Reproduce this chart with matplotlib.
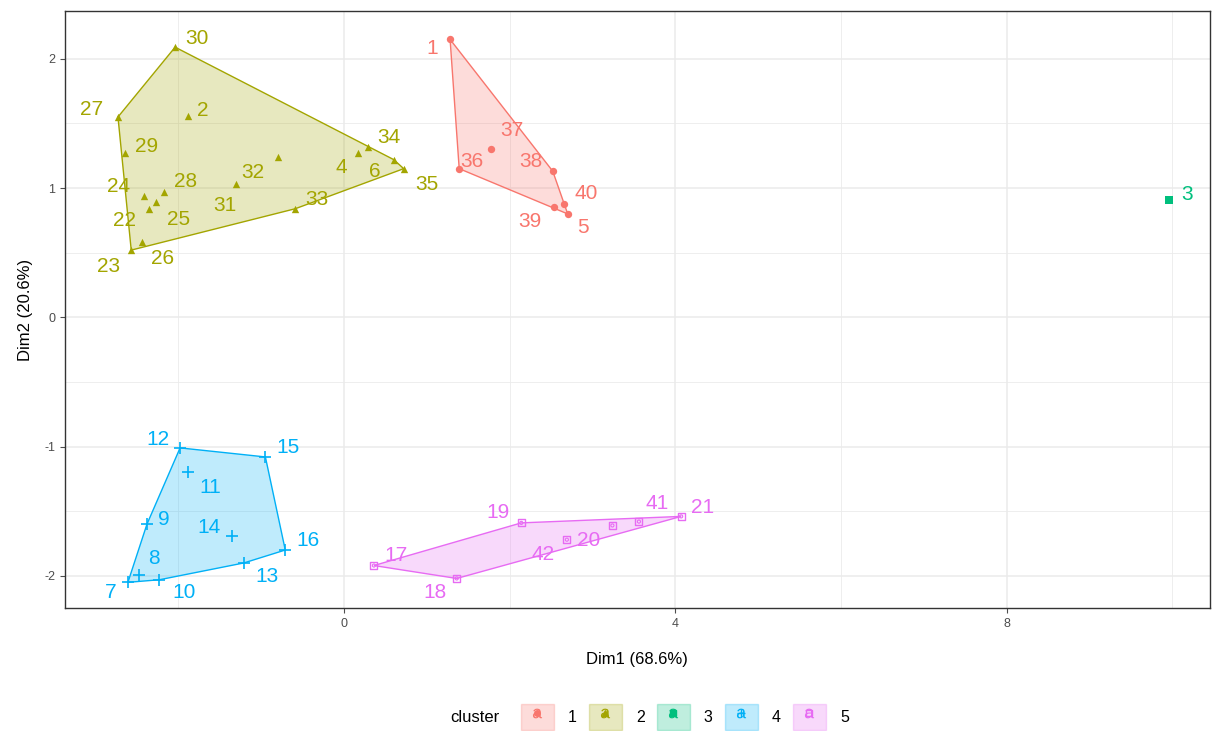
import numpy as np
import matplotlib
matplotlib.use("Agg")
import matplotlib.pyplot as plt
from matplotlib.patches import Patch, Polygon
from matplotlib.lines import Line2D
from matplotlib.ticker import MultipleLocator

plt.rcParams['font.family'] = ['Liberation Sans', 'DejaVu Sans']
plt.rcParams['axes.unicode_minus'] = False

# individual coordinates on the first two dimensions, by cluster
c1_names = ['1', '36', '37', '38', '40', '39', '5']
c1_x = [1.28, 1.39, 1.77, 2.52, 2.65, 2.53, 2.70]
c1_y = [2.15, 1.15, 1.30, 1.13, 0.875, 0.85, 0.80]

c2_names = ['30', '27', '2', '29', '24', '22', '25', '28', '31', '32', '33',
            '4', '34', '6', '35', '26', '23']
c2_x = [-2.04, -2.73, -1.88, -2.65, -2.42, -2.36, -2.27, -2.17, -1.31, -0.80,
        -0.59, 0.17, 0.29, 0.60, 0.72, -2.44, -2.57]
c2_y = [2.09, 1.55, 1.556, 1.27, 0.94, 0.84, 0.89, 0.97, 1.03, 1.24, 0.84,
        1.27, 1.32, 1.22, 1.15, 0.58, 0.52]

c3_names = ['3']
c3_x = [9.96]
c3_y = [0.91]

c4_names = ['12', '15', '11', '9', '14', '16', '8', '13', '7', '10']
c4_x = [-1.98, -0.95, -1.89, -2.38, -1.35, -0.71, -2.48, -1.21, -2.61, -2.23]
c4_y = [-1.01, -1.08, -1.20, -1.60, -1.69, -1.80, -1.99, -1.90, -2.05, -2.03]

c5_names = ['17', '18', '19', '42', '20', '41', '21']
c5_x = [0.36, 1.36, 2.14, 2.69, 3.24, 3.56, 4.07]
c5_y = [-1.92, -2.02, -1.59, -1.72, -1.61, -1.58, -1.54]

cluster_ids = ['1', '2', '3', '4', '5']
colors = ['#F8766D', '#A3A500', '#00BF7D', '#00B0F6', '#E76BF3']
markers = ['o', '^', 's', '+', 's']

# label nudges in pixels (right, down), like ggrepel would push them
nudge = {
    '1': (-18, 9), '36': (13, -7), '37': (21, -19), '38': (-22, -10), '40': (23, -11),
    '39': (-24, 14), '5': (15, 14),
    '30': (22, -9), '27': (-26, -7), '2': (14, -6), '29': (22, -7), '24': (-25, -9),
    '22': (-24, 12), '25': (22, 17), '28': (21, -10), '31': (-11, 21), '32': (-25, 15),
    '33': (22, -9), '4': (-17, 14), '34': (21, -9), '6': (-19, 12), '35': (23, 16),
    '26': (21, 16), '23': (-23, 16),
    '3': (18, -5),
    '12': (-22, -8), '15': (23, -9), '11': (23, 15), '9': (17, -5), '14': (-23, -8),
    '16': (23, -10), '8': (15, -16), '13': (23, 14), '7': (-17, 10), '10': (25, 13),
    '17': (22, -10), '18': (-22, 14), '19': (-23, -10), '42': (-24, 15), '20': (-24, 15),
    '41': (18, -18), '21': (21, -9),
}


def hull(xs, ys):
    pts = sorted(set(zip(xs, ys)))
    if len(pts) < 3:
        return pts

    def cross(o, a, b):
        return (a[0] - o[0]) * (b[1] - o[1]) - (a[1] - o[1]) * (b[0] - o[0])

    lower, upper = [], []
    for p in pts:
        while len(lower) >= 2 and cross(lower[-2], lower[-1], p) <= 0:
            lower.pop()
        lower.append(p)
    for p in reversed(pts):
        while len(upper) >= 2 and cross(upper[-2], upper[-1], p) <= 0:
            upper.pop()
        upper.append(p)
    return lower[:-1] + upper[:-1]


fig = plt.figure(figsize=(12.12, 7.31), dpi=100)
ax = fig.add_axes([0.0536, 0.168, 0.9444, 0.817])

groups = [(c1_names, c1_x, c1_y), (c2_names, c2_x, c2_y), (c3_names, c3_x, c3_y),
          (c4_names, c4_x, c4_y), (c5_names, c5_x, c5_y)]

for k, (names, xs, ys) in enumerate(groups):
    col = colors[k]
    h = hull(xs, ys)
    if len(h) >= 3:
        ax.add_patch(Polygon(h, closed=True, facecolor=col, alpha=0.25, edgecolor='none', zorder=2))
        ax.add_patch(Polygon(h, closed=True, facecolor='none', edgecolor=col, lw=1.0, zorder=3))
    if k == 4:
        ax.scatter(xs, ys, marker='s', s=26, facecolors='none', edgecolors=col, lw=1.0, zorder=4)
        ax.scatter(xs, ys, marker='o', s=5, facecolors='none', edgecolors=col, lw=0.8, zorder=4)
    elif k == 3:
        ax.scatter(xs, ys, marker='+', s=70, color=col, lw=1.2, zorder=4)
    else:
        ax.scatter(xs, ys, marker=markers[k], s=28, color=col, lw=0, zorder=4)
    for n, x, y in zip(names, xs, ys):
        dx, dy = nudge.get(n, (15, -8))
        ax.annotate(n, (x, y), xytext=(dx, -dy), textcoords='offset pixels',
                    ha='center', va='center', color=col, fontsize=15, zorder=5)

ax.set_xlim(-3.37, 10.45)
ax.set_ylim(-2.25, 2.37)
ax.xaxis.set_major_locator(MultipleLocator(4))
ax.xaxis.set_minor_locator(MultipleLocator(2))
ax.yaxis.set_major_locator(MultipleLocator(1))
ax.yaxis.set_minor_locator(MultipleLocator(0.5))
ax.grid(which='major', color='#EBEBEB', lw=1.1, zorder=0)
ax.grid(which='minor', color='#EBEBEB', lw=0.6, zorder=0)
ax.set_axisbelow(True)
for s in ax.spines.values():
    s.set_color('#333333')
    s.set_linewidth(1.0)
ax.tick_params(which='major', colors='#4D4D4D', labelsize=9, length=3.5, width=0.8)
ax.tick_params(which='minor', length=0)
ax.set_xlabel('Dim1 (68.6%)', fontsize=12, labelpad=16)
ax.set_ylabel('Dim2 (20.6%)', fontsize=12, labelpad=8)

# legend: filled key box with an "a" and the cluster marker
handles = []
for k in range(5):
    box = Patch(facecolor=colors[k], alpha=0.25, edgecolor=colors[k], lw=1.0)
    letter = Line2D([], [], marker=r'$\mathregular{a}$', color=colors[k], ls='none',
                    markersize=7, mew=0)
    if k == 3:
        mk = Line2D([], [], marker='+', color=colors[k], ls='none', markersize=6, mew=1.0)
    elif k == 4:
        mk = Line2D([], [], marker='s', color=colors[k], mfc='none', ls='none', markersize=4)
    else:
        mk = Line2D([], [], marker=markers[k], color=colors[k], ls='none', markersize=4)
    handles.append((box, letter, mk))

fig.text(0.392, 1 - 718 / 731, 'cluster', fontsize=12, va='center', ha='center')
fig.legend(handles, cluster_ids, loc='center left', bbox_to_anchor=(0.418, 1 - 717 / 731),
           ncol=5, frameon=False, fontsize=11.5, handlelength=2.05, handleheight=2.1,
           columnspacing=0.75, handletextpad=0.9)

fig.savefig('out.png', dpi=100)
